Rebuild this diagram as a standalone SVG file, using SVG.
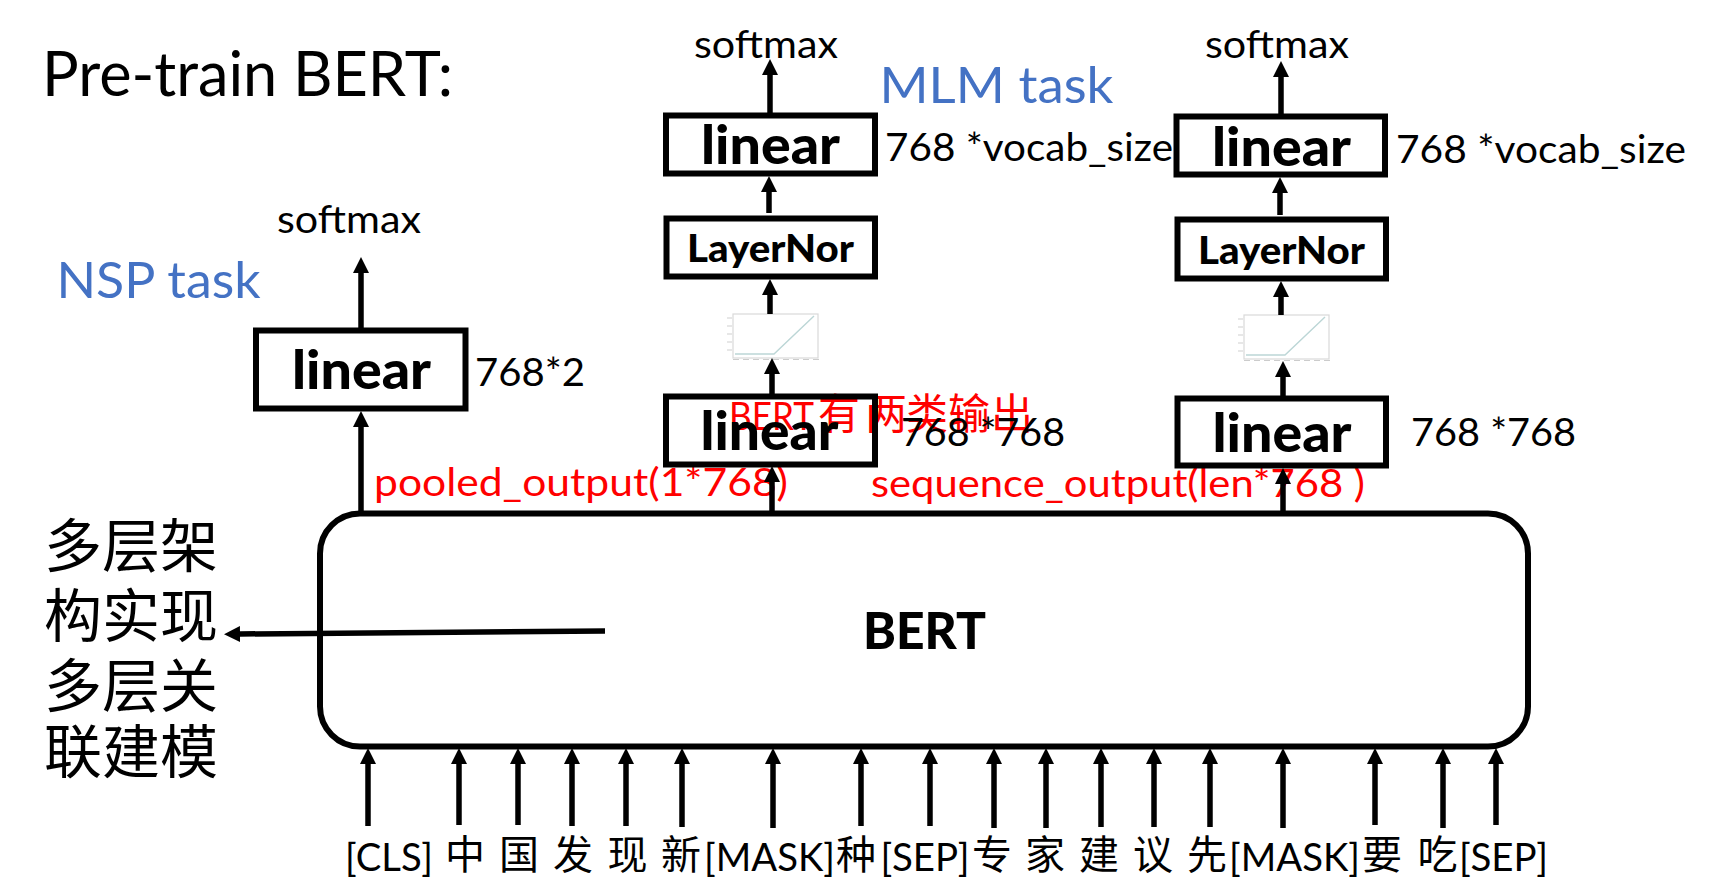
<svg xmlns="http://www.w3.org/2000/svg" xmlns:xlink="http://www.w3.org/1999/xlink" width="1711" height="893" viewBox="0 0 1711 893">
<style>
text{font-family:"Lato","Noto Sans CJK SC",sans-serif;fill:#000}
.cjk{font-family:"Noto Sans CJK SC",sans-serif;font-weight:400}
.box{fill:none;stroke:#000;stroke-width:6}
.bold{font-weight:700}
.blue{fill:#4472C4;font-size:50px}
.red{fill:#f00}
.sm{font-size:38px}
.lin{font-weight:900;font-size:53px}
.ln{font-weight:900;font-size:38px}
.tok{font-size:38px}
.tc{font-size:40px;text-anchor:middle}
.big{font-size:58px}
.con line{stroke:#000;stroke-width:5.500;marker-end:url(#h)}
</style>
<defs>
<marker id="h" markerUnits="userSpaceOnUse" markerWidth="18" markerHeight="18" refX="0" refY="9" orient="auto" viewBox="0 0 18 18"><path d="M0,1 L16,9 L0,17z" fill="#000"/></marker>
<g id="chart">
<rect x="733" y="314" width="85" height="44" fill="#fff" stroke="#d9d9d9" stroke-width="1.200"/>
<path d="M735,354H774L814,316" fill="none" stroke="#bcd6d6" stroke-width="1.400"/>
<path d="M727,318h5M727,326h5M727,334h5M727,342h5M727,350h5" stroke="#cfcfcf" stroke-width="1"/>
<path d="M733,359.500h6M743,359.500h6M753,359.500h6M763,359.500h6M773,359.500h6M783,359.500h6M793,359.500h6M803,359.500h6M813,359.500h6" stroke="#cccccc" stroke-width="1.200"/>
</g>
</defs>
<g id="notes-red">
<text class="red" x="729" y="430" font-size="38" textLength="85" lengthAdjust="spacingAndGlyphs">BERT</text>
<text class="red cjk" x="818" y="429" font-size="42">有</text>
<text class="red cjk" x="865" y="429" font-size="42">两</text>
<text class="red cjk" x="906" y="429" font-size="42">类</text>
<text class="red cjk" x="948" y="429" font-size="42">输</text>
<text class="red cjk" x="991" y="429" font-size="42">出</text>
<text class="red" x="374" y="496" font-size="38" textLength="414" lengthAdjust="spacingAndGlyphs">pooled_output(1*768)</text>
<text class="red" x="871" y="497" font-size="38" textLength="494" lengthAdjust="spacingAndGlyphs">sequence_output(len*768 )</text>
</g>
<g id="title"><text x="42" y="96" font-size="61" textLength="411" lengthAdjust="spacingAndGlyphs">Pre-train BERT:</text></g>
<g id="nsp-label"><text class="blue" x="56.500" y="298" textLength="204" lengthAdjust="spacingAndGlyphs">NSP task</text></g>
<g id="mlm-label"><text class="blue" x="879.500" y="103" textLength="234" lengthAdjust="spacingAndGlyphs">MLM task</text></g>
<g id="softmax-nsp"><text class="sm" x="277" y="233" textLength="144" lengthAdjust="spacingAndGlyphs">softmax</text></g>
<g id="softmax-mlm1"><text class="sm" x="694" y="57.500" textLength="144" lengthAdjust="spacingAndGlyphs">softmax</text></g>
<g id="softmax-mlm2"><text class="sm" x="1205" y="58" textLength="144" lengthAdjust="spacingAndGlyphs">softmax</text></g>
<g id="linear-nsp"><rect class="box" x="256" y="330.500" width="209.500" height="78"/><text class="lin" x="292" y="389" textLength="139" lengthAdjust="spacingAndGlyphs">linear</text><text class="sm" x="475" y="386" textLength="110" lengthAdjust="spacingAndGlyphs">768*2</text></g>
<g id="linear-mlm1-top"><rect class="box" x="666" y="115.500" width="209" height="58"/><text class="lin" x="701" y="164" textLength="139" lengthAdjust="spacingAndGlyphs">linear</text><text class="sm" x="885" y="161" textLength="288" lengthAdjust="spacingAndGlyphs">768 *vocab_size</text></g>
<g id="layernorm-mlm1"><rect class="box" x="666.500" y="218.500" width="208.500" height="58"/><text class="ln" x="687" y="262" textLength="167" lengthAdjust="spacingAndGlyphs">LayerNor</text></g>
<g id="relu-mlm1"><use href="#chart"/></g>
<g id="linear-mlm1-bottom"><rect class="box" x="666" y="396.500" width="209" height="68"/><text class="lin" x="700.500" y="450" textLength="138" lengthAdjust="spacingAndGlyphs">linear</text><text class="sm" x="901" y="446" textLength="164" lengthAdjust="spacingAndGlyphs">768 *768</text></g>
<g id="linear-mlm2-top"><rect class="box" x="1176.500" y="116.500" width="208.500" height="58"/><text class="lin" x="1212" y="166" textLength="139" lengthAdjust="spacingAndGlyphs">linear</text><text class="sm" x="1396" y="163" textLength="290" lengthAdjust="spacingAndGlyphs">768 *vocab_size</text></g>
<g id="layernorm-mlm2"><rect class="box" x="1177.500" y="219.500" width="208.500" height="59"/><text class="ln" x="1198" y="264" textLength="167" lengthAdjust="spacingAndGlyphs">LayerNor</text></g>
<g id="relu-mlm2"><use href="#chart" transform="translate(511,1)"/></g>
<g id="linear-mlm2-bottom"><rect class="box" x="1177.500" y="398.500" width="208.500" height="67"/><text class="lin" x="1212.500" y="452" textLength="139" lengthAdjust="spacingAndGlyphs">linear</text><text class="sm" x="1411" y="446" textLength="165" lengthAdjust="spacingAndGlyphs">768 *768</text></g>
<g id="bert"><rect class="box" x="320" y="513.500" width="1208" height="233" rx="40" ry="40"/><text class="bold" x="863" y="649" font-size="51" style="font-weight:900" textLength="123" lengthAdjust="spacingAndGlyphs">BERT</text></g>
<g id="side-note">
<text class="cjk big" x="44" y="567">多层架</text>
<text class="cjk big" x="44" y="637">构实现</text>
<text class="cjk big" x="44" y="707">多层关</text>
<text class="cjk big" x="44" y="773">联建模</text>
</g>
<g id="tokens">
<text class="tok" x="345" y="871" textLength="88" lengthAdjust="spacingAndGlyphs">[CLS]</text>
<text class="cjk tc" x="465" y="869">中</text>
<text class="cjk tc" x="519" y="869">国</text>
<text class="cjk tc" x="573" y="869">发</text>
<text class="cjk tc" x="627.500" y="869">现</text>
<text class="cjk tc" x="681" y="869">新</text>
<text class="tok" x="704" y="871" textLength="131" lengthAdjust="spacingAndGlyphs">[MASK]</text>
<text class="cjk tc" x="856" y="869">种</text>
<text class="tok" x="880.500" y="871" textLength="89" lengthAdjust="spacingAndGlyphs">[SEP]</text>
<text class="cjk tc" x="992" y="869">专</text>
<text class="cjk tc" x="1045" y="869">家</text>
<text class="cjk tc" x="1099" y="869">建</text>
<text class="cjk tc" x="1153" y="869">议</text>
<text class="cjk tc" x="1207" y="869">先</text>
<text class="tok" x="1229" y="871" textLength="131" lengthAdjust="spacingAndGlyphs">[MASK]</text>
<text class="cjk tc" x="1382" y="869">要</text>
<text class="cjk tc" x="1437.500" y="869">吃</text>
<text class="tok" x="1459" y="871" textLength="89" lengthAdjust="spacingAndGlyphs">[SEP]</text>
</g>
<g id="connectors" class="con">
<line x1="361" y1="328" x2="361" y2="273"/>
<line x1="361" y1="512" x2="361" y2="427"/>
<line x1="770" y1="113" x2="770" y2="75"/>
<line x1="769" y1="213" x2="769" y2="192"/>
<line x1="770" y1="314" x2="770" y2="295"/>
<line x1="772" y1="395" x2="772" y2="374"/>
<line x1="772" y1="512" x2="772" y2="482"/>
<line x1="1281" y1="114" x2="1281" y2="77"/>
<line x1="1280" y1="215" x2="1280" y2="193"/>
<line x1="1281" y1="315" x2="1281" y2="297"/>
<line x1="1283" y1="396" x2="1283" y2="377"/>
<line x1="1283" y1="512" x2="1283" y2="484"/>
<line x1="605" y1="631" x2="240" y2="634"/>
<line x1="368" y1="826" x2="368" y2="764"/>
<line x1="459" y1="825" x2="459" y2="764"/>
<line x1="518" y1="825" x2="518" y2="764"/>
<line x1="572" y1="826" x2="572" y2="764"/>
<line x1="626" y1="826" x2="626" y2="764"/>
<line x1="682" y1="827" x2="682" y2="764"/>
<line x1="773" y1="828" x2="773" y2="764"/>
<line x1="861" y1="826" x2="861" y2="764"/>
<line x1="930" y1="826" x2="930" y2="764"/>
<line x1="994" y1="828" x2="994" y2="764"/>
<line x1="1046" y1="828" x2="1046" y2="764"/>
<line x1="1101" y1="827" x2="1101" y2="764"/>
<line x1="1154" y1="827" x2="1154" y2="764"/>
<line x1="1210" y1="827" x2="1210" y2="764"/>
<line x1="1283" y1="828" x2="1283" y2="764"/>
<line x1="1375" y1="825" x2="1375" y2="764"/>
<line x1="1443" y1="828" x2="1443" y2="764"/>
<line x1="1496" y1="825" x2="1496" y2="764"/>
</g>
</svg>
